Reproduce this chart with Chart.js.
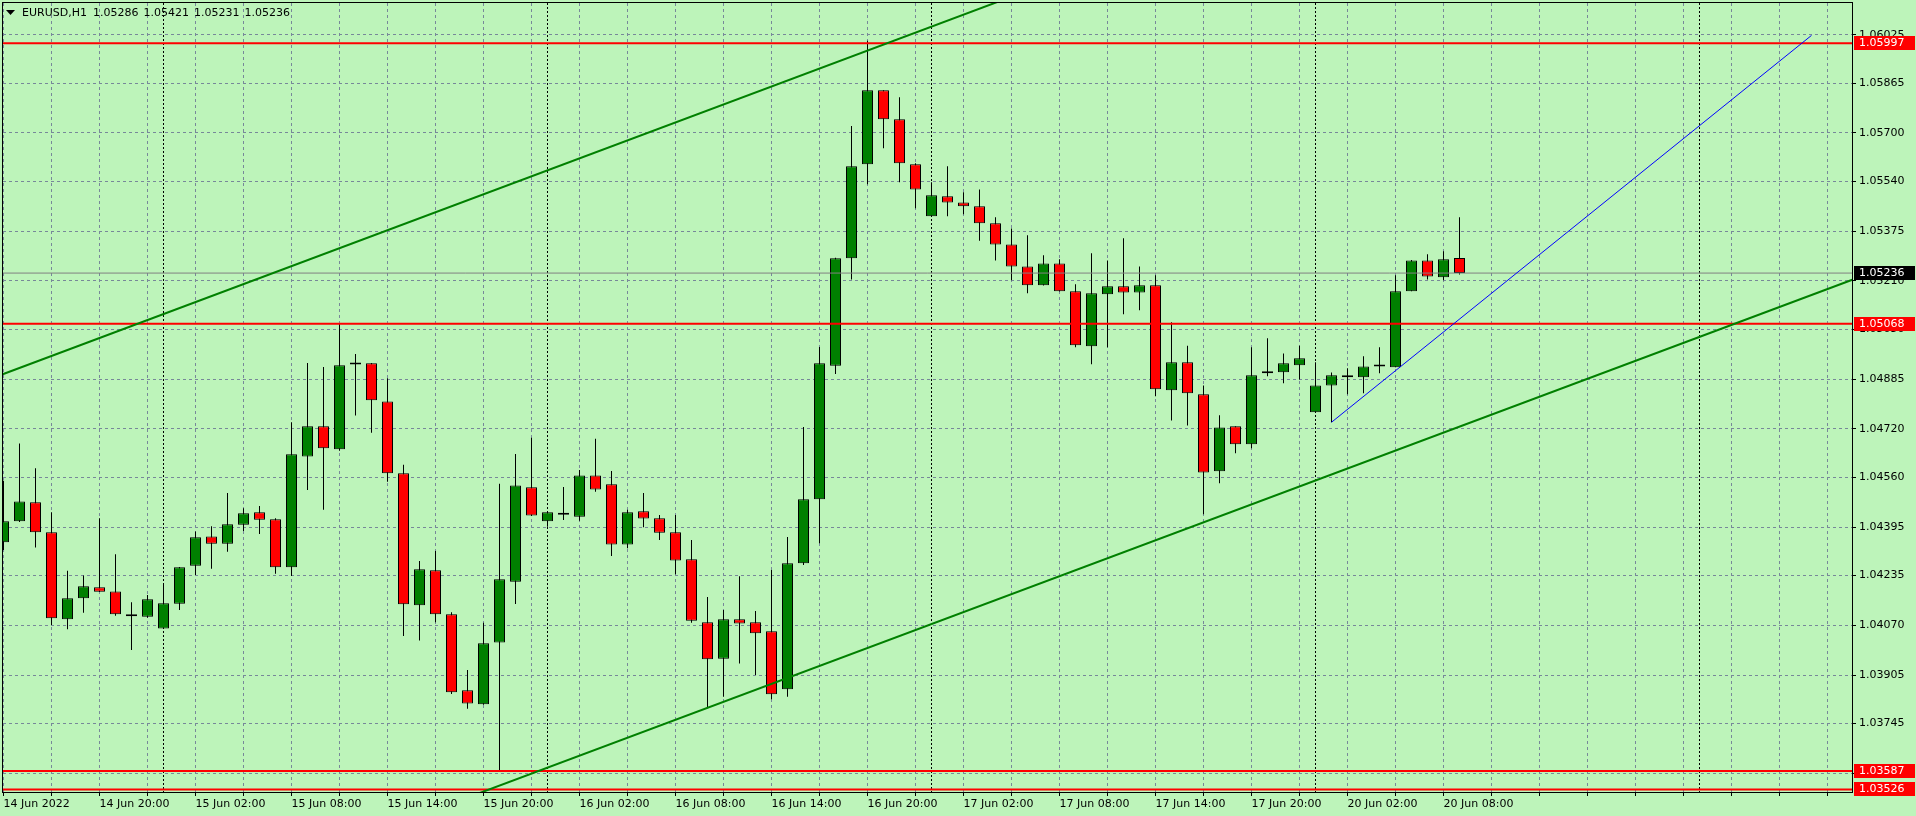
<!DOCTYPE html>
<html>
<head>
<meta charset="utf-8">
<title>EURUSD,H1</title>
<script src="https://cdn.jsdelivr.net/npm/chart.js@4.4.1/dist/chart.umd.min.js"></script>
<style>
    html, body { margin: 0; padding: 0; background: #bdf4ba; overflow: hidden; }
    #grafico { display: block; }
</style>
</head>
<body>
<canvas id="grafico" width="1916" height="816"></canvas>
<script>
// Datos de las velas H1 (indice 0 = 14 Jun 14:00)
const simbolo = 'EURUSD,H1'

const aperturas = [
    1.04345, 1.04414, 1.04477, 1.04378, 1.04090, 1.04159, 1.04196, 1.04182, 1.04106, 1.04098,
    1.04059, 1.04141, 1.04267, 1.04364, 1.04340, 1.04403, 1.04444, 1.04421, 1.04262, 1.04629,
    1.04729, 1.04653, 1.04933, 1.04937, 1.04811, 1.04573, 1.04136, 1.04252, 1.04106, 1.03855,
    1.03808, 1.04013, 1.04214, 1.04527, 1.04414, 1.04436, 1.04429, 1.04566, 1.04537, 1.04337,
    1.04447, 1.04424, 1.04378, 1.04288, 1.04080, 1.03959, 1.04090, 1.04080, 1.04050, 1.03858,
    1.04275, 1.04487, 1.04929, 1.05285, 1.05596, 1.05841, 1.05745, 1.05596, 1.05424, 1.05490,
    1.05470, 1.05457, 1.05401, 1.05331, 1.05258, 1.05196, 1.05268, 1.05176, 1.04994, 1.05166,
    1.05192, 1.05172, 1.05196, 1.04848, 1.04941, 1.04835, 1.04580, 1.04729, 1.04669, 1.04904,
    1.04908, 1.04931, 1.04775, 1.04864, 1.04898, 1.04891, 1.04927, 1.04924, 1.05176, 1.05278,
    1.05222, 1.05286
]
const maximos = [
    1.04548, 1.04672, 1.04590, 1.04444, 1.04250, 1.04235, 1.04424, 1.04305, 1.04146, 1.04170,
    1.04206, 1.04263, 1.04380, 1.04398, 1.04508, 1.04457, 1.04465, 1.04424, 1.04742, 1.04938,
    1.04925, 1.05068, 1.04968, 1.04938, 1.04888, 1.04601, 1.04283, 1.04316, 1.04113, 1.03922,
    1.04078, 1.04538, 1.04637, 1.04691, 1.04446, 1.04528, 1.04584, 1.04687, 1.04581, 1.04452,
    1.04508, 1.04435, 1.04435, 1.04352, 1.04163, 1.04120, 1.04232, 1.04117, 1.04253, 1.04362,
    1.04726, 1.04991, 1.05287, 1.05723, 1.06005, 1.05841, 1.05818, 1.05600, 1.05537, 1.05590,
    1.05504, 1.05513, 1.05421, 1.05384, 1.05361, 1.05295, 1.05282, 1.05199, 1.05302, 1.05278,
    1.05351, 1.05258, 1.05229, 1.05073, 1.04995, 1.04864, 1.04765, 1.04729, 1.04990, 1.05020,
    1.04970, 1.04995, 1.04941, 1.04907, 1.04921, 1.04961, 1.04990, 1.05229, 1.05279, 1.05298,
    1.05308, 1.05421
]
const minimos = [
    1.04319, 1.04412, 1.04327, 1.04071, 1.04057, 1.04111, 1.04180, 1.04101, 1.03988, 1.04095,
    1.04058, 1.04120, 1.04236, 1.04257, 1.04313, 1.04382, 1.04372, 1.04240, 1.04233, 1.04518,
    1.04452, 1.04648, 1.04764, 1.04707, 1.04545, 1.04034, 1.04019, 1.04080, 1.03842, 1.03793,
    1.03807, 1.03587, 1.04140, 1.04432, 1.04396, 1.04418, 1.04416, 1.04512, 1.04299, 1.04325,
    1.04394, 1.04352, 1.04239, 1.04078, 1.03795, 1.03833, 1.03943, 1.03905, 1.03825, 1.03833,
    1.04269, 1.04341, 1.04902, 1.05215, 1.05530, 1.05649, 1.05537, 1.05451, 1.05424, 1.05424,
    1.05431, 1.05343, 1.05278, 1.05212, 1.05169, 1.05195, 1.05175, 1.04990, 1.04934, 1.04990,
    1.05100, 1.05113, 1.04828, 1.04748, 1.04731, 1.04437, 1.04540, 1.04639, 1.04656, 1.04894,
    1.04871, 1.04884, 1.04775, 1.04742, 1.04835, 1.04838, 1.04904, 1.04924, 1.05176, 1.05215,
    1.05212, 1.05231
]
const cierres = [
    1.04414, 1.04480, 1.04378, 1.04093, 1.04159, 1.04199, 1.04181, 1.04106, 1.04100, 1.04156,
    1.04143, 1.04262, 1.04361, 1.04340, 1.04404, 1.04441, 1.04419, 1.04262, 1.04636, 1.04729,
    1.04656, 1.04931, 1.04933, 1.04815, 1.04573, 1.04139, 1.04255, 1.04106, 1.03848, 1.03811,
    1.04010, 1.04222, 1.04533, 1.04433, 1.04444, 1.04436, 1.04566, 1.04519, 1.04337, 1.04444,
    1.04423, 1.04376, 1.04284, 1.04085, 1.03957, 1.04090, 1.04076, 1.04043, 1.03841, 1.04275,
    1.04487, 1.04937, 1.05285, 1.05590, 1.05841, 1.05745, 1.05600, 1.05513, 1.05494, 1.05470,
    1.05457, 1.05401, 1.05331, 1.05258, 1.05196, 1.05268, 1.05176, 1.04997, 1.05169, 1.05192,
    1.05172, 1.05196, 1.04851, 1.04941, 1.04838, 1.04576, 1.04725, 1.04669, 1.04898, 1.04904,
    1.04937, 1.04954, 1.04864, 1.04898, 1.04891, 1.04927, 1.04927, 1.05176, 1.05278, 1.05225,
    1.05282, 1.05236
]

// Etiquetas de los ejes
const etiquetas_tiempo = [
    '14 Jun 2022', '14 Jun 20:00', '15 Jun 02:00', '15 Jun 08:00', '15 Jun 14:00', '15 Jun 20:00',
    '16 Jun 02:00', '16 Jun 08:00', '16 Jun 14:00', '16 Jun 20:00', '17 Jun 02:00', '17 Jun 08:00',
    '17 Jun 14:00', '17 Jun 20:00', '20 Jun 02:00', '20 Jun 08:00'
]
const precios_eje = [
    1.06025, 1.05865, 1.05700, 1.05540, 1.05375, 1.05210, 1.05050, 1.04885,
    1.04720, 1.04560, 1.04395, 1.04235, 1.04070, 1.03905, 1.03745, 1.03580
]

// Objetos dibujados sobre el grafico
const lineas_rojas = [1.05997, 1.05068, 1.03587, 1.03526]
const precio_actual = 1.05236
const separadores_dia = [10, 34, 58, 82, 106]
const canal_superior = [{x: -1, y: 1.04882}, {x: 70, y: 1.06290}]
const canal_inferior = [{x: 20, y: 1.03321}, {x: 116, y: 1.05223}]
const linea_azul = [{x: 83, y: 1.04742}, {x: 113, y: 1.06023}]

const X_MIN = -0.03125
const X_MAX = 115.53125

Chart.defaults.font.family = "'DejaVu Sans'"
Chart.defaults.font.size = 11
Chart.defaults.color = '#000'

function armar_velas() {
    const cuerpos = []
    const mechas = []
    const colores = []
    for (let i = 0; i < aperturas.length; i++) {
        cuerpos.push({x: i, y: [aperturas[i], cierres[i]]})
        mechas.push({x: i, y: [minimos[i], maximos[i]]})
        if (cierres[i] > aperturas[i]) colores.push('#008000')
        else if (cierres[i] < aperturas[i]) colores.push('#ff0000')
        else colores.push('#000000')
    }
    return {cuerpos, mechas, colores}
}

function linea(datos, color, ancho, orden) {
    return {
        type: 'line',
        data: datos,
        borderColor: color,
        borderWidth: ancho,
        pointRadius: 0,
        fill: false,
        tension: 0,
        clip: 0,
        order: orden
    }
}

const marco = {
    id: 'marco',
    beforeDatasetsDraw(chart) {
        const {ctx, chartArea, scales} = chart
        ctx.save()
        ctx.strokeStyle = '#000'
        ctx.lineWidth = 1
        ctx.setLineDash([2, 2])
        separadores_dia.forEach(k => {
            const x = Math.floor(scales.x.getPixelForValue(k)) + 0.5
            ctx.beginPath()
            ctx.moveTo(x, chartArea.top)
            ctx.lineTo(x, chartArea.bottom)
            ctx.stroke()
        })
        ctx.restore()
    },
    afterDraw(chart) {
        const {ctx, chartArea, scales} = chart
        ctx.save()
        ctx.strokeStyle = '#000'
        ctx.lineWidth = 1
        ctx.strokeRect(chartArea.left - 0.5, chartArea.top - 0.5,
            chartArea.right - chartArea.left + 1, chartArea.bottom - chartArea.top + 1)

        // etiquetas de precio en el eje
        ctx.font = "11px 'DejaVu Sans'"
        ctx.textBaseline = 'middle'
        ctx.textAlign = 'left'
        const etiqueta = (valor, fondo) => {
            const y = Math.round(scales.y.getPixelForValue(valor))
            ctx.fillStyle = fondo
            ctx.fillRect(chartArea.right + 2, y - 7, 61, 14)
            ctx.fillStyle = '#ffffff'
            ctx.fillText(valor.toFixed(5), chartArea.right + 7, y + 0.5)
        }
        lineas_rojas.forEach(v => etiqueta(v, '#ff0000'))
        etiqueta(precio_actual, '#000000')

        // titulo
        const u = aperturas.length - 1
        ctx.fillStyle = '#000'
        ctx.beginPath()
        ctx.moveTo(6, 10)
        ctx.lineTo(15, 10)
        ctx.lineTo(10.5, 15)
        ctx.closePath()
        ctx.fill()
        ctx.fillText(simbolo, 22, 13)
        let x = 93
        ;[aperturas[u], maximos[u], minimos[u], cierres[u]].forEach(v => {
            const t = v.toFixed(5)
            ctx.fillText(t, x, 13)
            x += ctx.measureText(t).width + 5
        })
        ctx.restore()
    }
}

function generar_grafico() {
    const velas = armar_velas()
    const marcas_x = []
    for (let k = 0; k <= 114; k += 3) marcas_x.push(k)

    const datasets = [
        linea(canal_superior, '#008000', 2, 0),
        linea(canal_inferior, '#008000', 2, 0),
        linea(linea_azul, '#0000ff', 1, 0)
    ]
    lineas_rojas.forEach(v => datasets.push(linea([{x: X_MIN, y: v}, {x: X_MAX, y: v}], '#ff0000', 2, 0)))
    datasets.push(linea([{x: X_MIN, y: precio_actual}, {x: X_MAX, y: precio_actual}], '#808080', 1, 0.5))
    datasets.push({
        type: 'bar',
        data: velas.cuerpos,
        backgroundColor: velas.colores,
        borderColor: '#000000',
        borderWidth: 1,
        borderSkipped: false,
        barThickness: 11,
        minBarLength: 2,
        grouped: false,
        inflateAmount: 0,
        order: 1
    })
    datasets.push({
        type: 'bar',
        data: velas.mechas,
        backgroundColor: '#000000',
        borderWidth: 0,
        barThickness: 1,
        grouped: false,
        inflateAmount: 0,
        order: 2
    })

    new Chart(document.getElementById('grafico'), {
        type: 'bar',
        data: {datasets: datasets},
        options: {
            responsive: false,
            animation: false,
            devicePixelRatio: 1,
            layout: {padding: {left: 3, top: 3, right: 0, bottom: 0}},
            plugins: {legend: {display: false}, tooltip: {enabled: false}},
            scales: {
                x: {
                    type: 'linear',
                    min: X_MIN,
                    max: X_MAX,
                    bounds: 'data',
                    offset: false,
                    afterBuildTicks: s => { s.ticks = marcas_x.map(v => ({value: v})) },
                    afterFit: s => { s.height = 24; s.paddingLeft = 0; s.paddingRight = 0 },
                    ticks: {
                        autoSkip: false,
                        maxRotation: 0,
                        minRotation: 0,
                        align: 'start',
                        padding: 2,
                        callback: v => (v % 6 === 0 && v / 6 < etiquetas_tiempo.length) ? etiquetas_tiempo[v / 6] : ''
                    },
                    grid: {color: '#778899', lineWidth: 1, offset: false, tickLength: 4, tickColor: '#000', tickWidth: 1},
                    border: {display: false, dash: [3, 3]}
                },
                y: {
                    type: 'linear',
                    position: 'right',
                    min: 1.035177,
                    max: 1.061303,
                    beginAtZero: false,
                    afterBuildTicks: s => { s.ticks = precios_eje.slice().reverse().map(v => ({value: v})) },
                    afterFit: s => { s.width = 64; s.paddingTop = 0; s.paddingBottom = 0 },
                    ticks: {autoSkip: false, padding: 3, callback: v => v.toFixed(5)},
                    grid: {color: '#778899', lineWidth: 1, tickLength: 4, tickColor: '#000', tickWidth: 1},
                    border: {display: false, dash: [3, 3]}
                }
            }
        },
        plugins: [marco]
    })
}

generar_grafico()
</script>
</body>
</html>
